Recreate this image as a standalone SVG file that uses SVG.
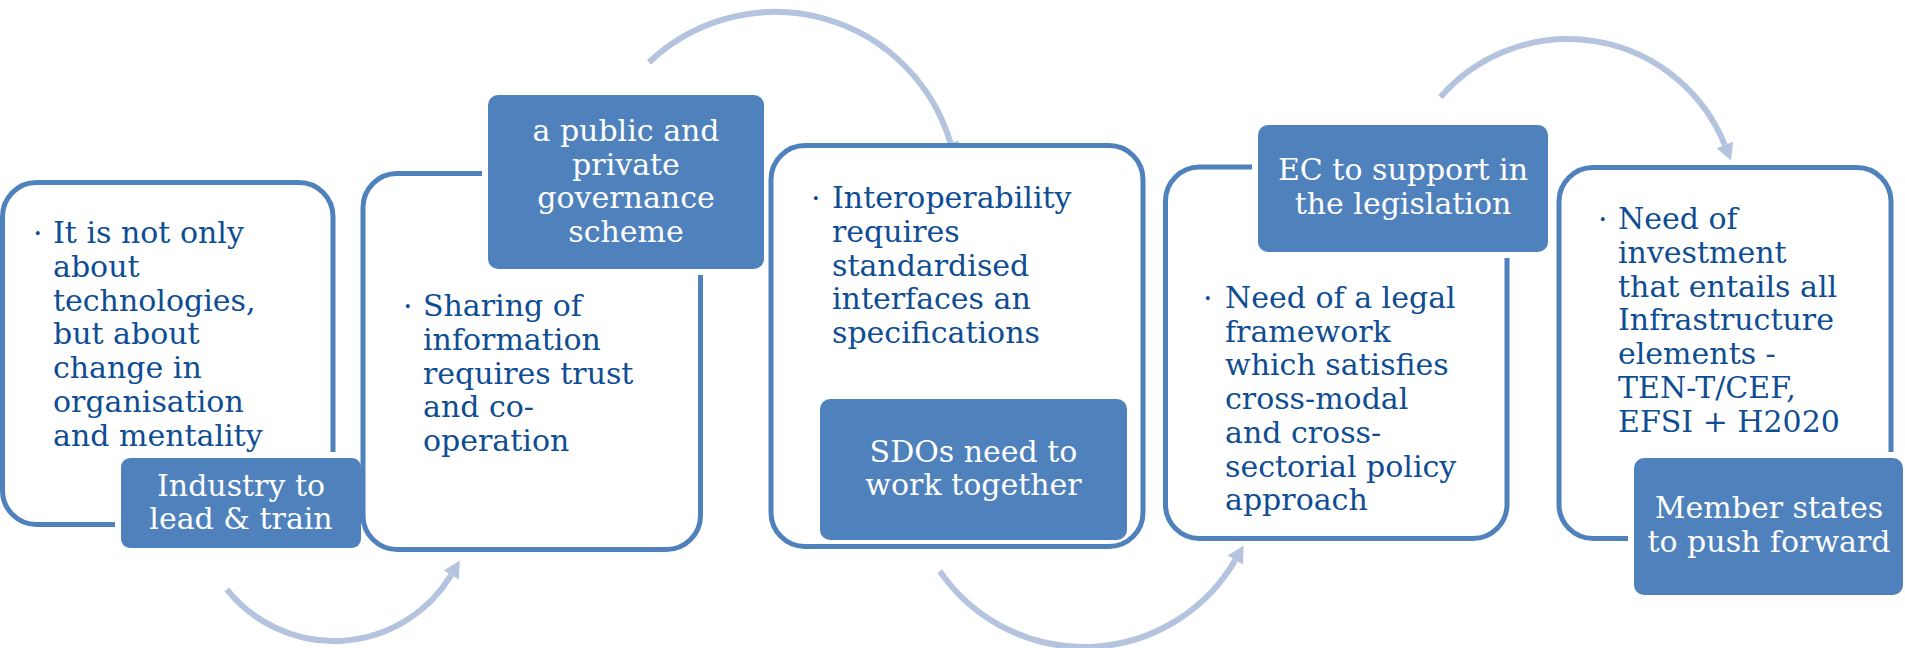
<svg xmlns="http://www.w3.org/2000/svg" width="1905" height="648" viewBox="0 0 1905 648">
<defs>
<style>
.outline{fill:#ffffff;stroke:#4F81BD;stroke-width:5}
.label{fill:#4F81BD;stroke:#ffffff;stroke-width:12;paint-order:stroke}
.label-inner{fill:#4F81BD}
.body{font-family:"DejaVu Serif","Liberation Serif",serif;font-size:30px;fill:#0E4D93}
.ltext{font-family:"DejaVu Serif","Liberation Serif",serif;font-size:30px;fill:#ffffff;text-anchor:middle}
.arc{fill:none;stroke:#B4C3DE;stroke-width:6;marker-end:url(#ah)}
</style>
<marker id="ah" markerUnits="userSpaceOnUse" markerWidth="20" markerHeight="20" viewBox="-1 -9 18 18" refX="0" refY="0" orient="auto" overflow="visible">
<path d="M0,-8 L15,0 L0,8 z" fill="#B4C3DE"/>
</marker>
</defs>
<rect width="1905" height="648" fill="#ffffff"/>
<g id="connectors">
<path class="arc" d="M226.8,589.3 A137,137 0 0 0 451.2,575.0"/>
<path class="arc" d="M649,62.3 A183,183 0 0 1 950.5,143"/>
<path class="arc" d="M939.8,571.1 A175,175 0 0 0 1235.3,560.0"/>
<path class="arc" d="M1440.5,97.1 A169,169 0 0 1 1724.8,145"/>
</g>
<g id="node-1">
<rect class="outline" x="2.5" y="182.5" width="330.5" height="342" rx="34"/>
<text class="body"><tspan x="33" y="243">·</tspan></text>
<text class="body">
<tspan x="53" y="243">It is not only</tspan>
<tspan x="53" y="276.8">about</tspan>
<tspan x="53" y="310.6">technologies,</tspan>
<tspan x="53" y="344.4">but about</tspan>
<tspan x="53" y="378.2">change in</tspan>
<tspan x="53" y="412">organisation</tspan>
<tspan x="53" y="445.8">and mentality</tspan>
</text>
<rect class="label" x="121" y="458" width="240" height="90" rx="9"/>
<text class="ltext"><tspan x="241" y="496">Industry to</tspan><tspan x="241" y="529">lead &amp; train</tspan></text>
</g>
<g id="node-2">
<rect class="outline" x="363" y="173.5" width="337.5" height="376" rx="34"/>
<text class="body"><tspan x="403" y="316">·</tspan></text>
<text class="body">
<tspan x="423" y="316">Sharing of</tspan>
<tspan x="423" y="349.8">information</tspan>
<tspan x="423" y="383.6">requires trust</tspan>
<tspan x="423" y="417.4">and co-</tspan>
<tspan x="423" y="451.2">operation</tspan>
</text>
<rect class="label" x="488" y="95" width="276" height="174" rx="10"/>
<text class="ltext"><tspan x="626" y="141">a public and</tspan><tspan x="626" y="175">private</tspan><tspan x="626" y="208">governance</tspan><tspan x="626" y="242">scheme</tspan></text>
</g>
<g id="node-3">
<rect class="outline" x="771" y="145.5" width="372" height="401" rx="34"/>
<text class="body"><tspan x="811" y="208">·</tspan></text>
<text class="body">
<tspan x="832" y="208">Interoperability</tspan>
<tspan x="832" y="241.8">requires</tspan>
<tspan x="832" y="275.6">standardised</tspan>
<tspan x="832" y="309.4">interfaces an</tspan>
<tspan x="832" y="343.2">specifications</tspan>
</text>
<rect class="label-inner" x="820" y="399" width="307" height="141" rx="10"/>
<text class="ltext"><tspan x="973.5" y="462">SDOs need to</tspan><tspan x="973.5" y="495">work together</tspan></text>
</g>
<g id="node-4">
<rect class="outline" x="1165.5" y="167" width="341.5" height="371.5" rx="34"/>
<text class="body"><tspan x="1203" y="308">·</tspan></text>
<text class="body">
<tspan x="1225" y="308">Need of a legal</tspan>
<tspan x="1225" y="341.7">framework</tspan>
<tspan x="1225" y="375.4">which satisfies</tspan>
<tspan x="1225" y="409.1">cross-modal</tspan>
<tspan x="1225" y="442.8">and cross-</tspan>
<tspan x="1225" y="476.5">sectorial policy</tspan>
<tspan x="1225" y="510.2">approach</tspan>
</text>
<rect class="label" x="1258" y="125" width="290" height="127" rx="10"/>
<text class="ltext"><tspan x="1403" y="180">EC to support in</tspan><tspan x="1403" y="214">the legislation</tspan></text>
</g>
<g id="node-5">
<rect class="outline" x="1559" y="167.5" width="332" height="371" rx="34"/>
<text class="body"><tspan x="1598" y="229">·</tspan></text>
<text class="body">
<tspan x="1618" y="229">Need of</tspan>
<tspan x="1618" y="262.8">investment</tspan>
<tspan x="1618" y="296.6">that entails all</tspan>
<tspan x="1618" y="330.4">Infrastructure</tspan>
<tspan x="1618" y="364.2">elements -</tspan>
<tspan x="1618" y="398">TEN-T/CEF,</tspan>
<tspan x="1618" y="431.8">EFSI + H2020</tspan>
</text>
<rect class="label" x="1634" y="458" width="269" height="137" rx="10"/>
<text class="ltext"><tspan x="1769" y="518">Member states</tspan><tspan x="1769" y="552">to push forward</tspan></text>
</g>
</svg>
